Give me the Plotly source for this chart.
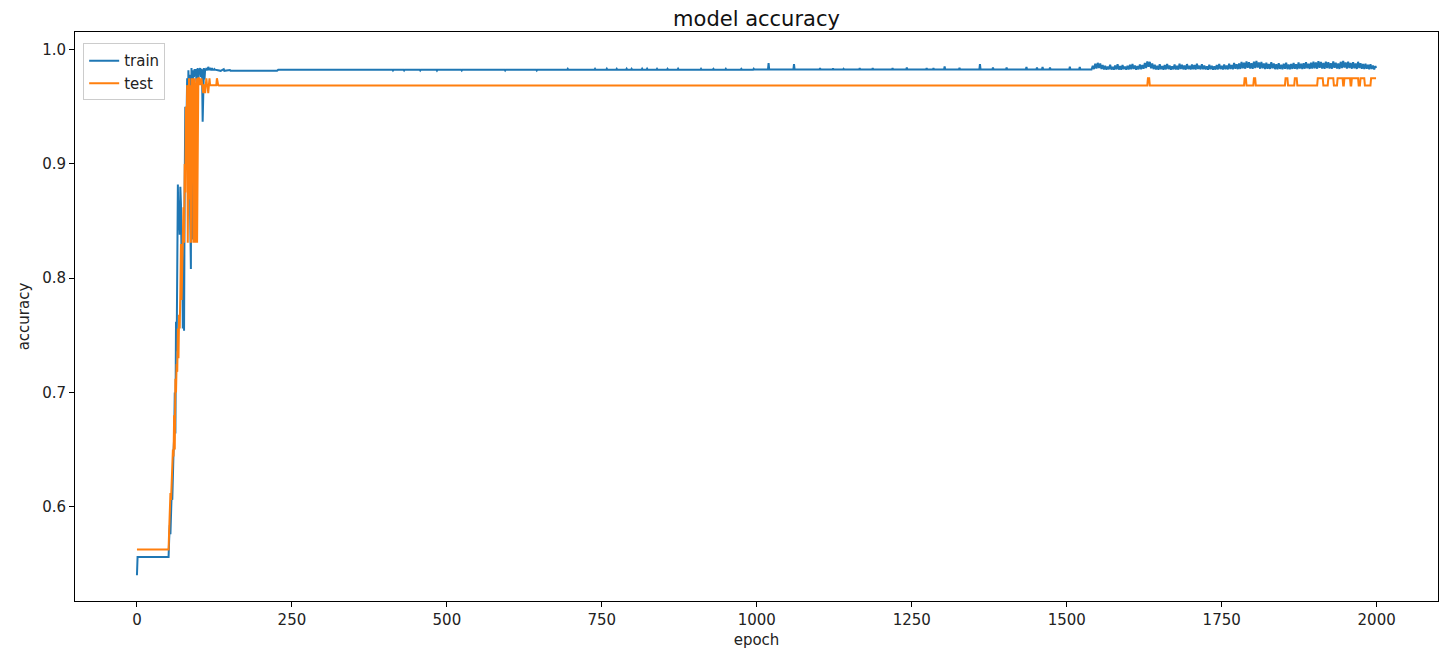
import plotly.graph_objects as go

# ---------------- data ----------------
# train accuracy: start
train_start_epochs = [0, 1, 49]
train_start_acc = [0.540, 0.556, 0.556]

# train accuracy: per-epoch values during the rise (epochs 50..125)
train_rise_epochs = list(range(50, 126))
train_rise_acc = [
    0.556, 0.556, 0.572, 0.584, 0.576, 0.598, 0.612, 0.606, 0.642, 0.648,
    0.660, 0.700, 0.664, 0.762, 0.736, 0.790, 0.882, 0.842, 0.868, 0.838,
    0.880, 0.865, 0.812, 0.835, 0.756, 0.790, 0.754, 0.880, 0.950, 0.905,
    0.966, 0.975, 0.930, 0.982, 0.962, 0.978, 0.852, 0.808, 0.984, 0.834,
    0.972, 0.982, 0.976, 0.983, 0.980, 0.983, 0.972, 0.983, 0.984, 0.975,
    0.983, 0.982, 0.984, 0.976, 0.983, 0.982, 0.937, 0.982, 0.984, 0.974,
    0.983, 0.982, 0.984, 0.983, 0.982, 0.985, 0.983, 0.982, 0.984, 0.983,
    0.982, 0.984, 0.982, 0.983, 0.982, 0.983,
]

# train accuracy: plateau with occasional blips (epochs 126..1538)
train_mid_epochs = [
    126, 135, 140, 141, 150, 151, 170, 180, 181, 226, 228,
    412, 413, 414, 430, 431, 432, 456, 457, 458, 483, 484, 485,
    523, 524, 525, 593, 594, 595, 644, 645, 646,
    694, 695, 696, 738, 739, 740, 757, 758, 759, 773, 774, 775,
    789, 790, 791, 797, 798, 799, 814, 815, 816, 822, 823, 824,
    838, 839, 840, 855, 856, 857, 872, 873, 874,
    909, 910, 911, 929, 930, 931, 949, 950, 951, 974, 975, 976, 994, 995, 996,
    1018, 1019, 1020, 1059, 1060, 1061,
    1101, 1102, 1103, 1122, 1123, 1124, 1139, 1140, 1141, 1165, 1166, 1167,
    1186, 1187, 1188, 1218, 1219, 1220, 1241, 1242, 1243, 1273, 1274, 1275,
    1284, 1285, 1286, 1302, 1303, 1304, 1326, 1327, 1328, 1359, 1360, 1361,
    1380, 1381, 1382, 1402, 1403, 1404, 1434, 1435, 1436, 1451, 1452, 1453,
    1460, 1461, 1462, 1472, 1473, 1474, 1504, 1505, 1506, 1520, 1521, 1522,
    1538,
]
train_mid_acc = [
    0.9825, 0.9815, 0.9830, 0.9815, 0.9822, 0.9815, 0.9815, 0.9820, 0.9815, 0.9815, 0.9825,
    0.9825, 0.9818, 0.9825, 0.9825, 0.9818, 0.9825, 0.9825, 0.9818, 0.9825, 0.9825, 0.9817, 0.9825,
    0.9825, 0.9818, 0.9825, 0.9825, 0.9818, 0.9825, 0.9825, 0.9818, 0.9825,
    0.9825, 0.9833, 0.9825, 0.9825, 0.9833, 0.9825, 0.9825, 0.9834, 0.9825, 0.9825, 0.9833, 0.9825,
    0.9825, 0.9834, 0.9825, 0.9825, 0.9833, 0.9825, 0.9825, 0.9834, 0.9825, 0.9825, 0.9834, 0.9825,
    0.9825, 0.9833, 0.9825, 0.9825, 0.9833, 0.9825, 0.9825, 0.9834, 0.9825,
    0.9825, 0.9833, 0.9825, 0.9825, 0.9832, 0.9825, 0.9825, 0.9833, 0.9825, 0.9825, 0.9832, 0.9825, 0.9825, 0.9833, 0.9826,
    0.9826, 0.9883, 0.9826, 0.9826, 0.9875, 0.9826,
    0.9826, 0.9838, 0.9826, 0.9826, 0.9836, 0.9826, 0.9826, 0.9833, 0.9826, 0.9826, 0.9838, 0.9826,
    0.9826, 0.9840, 0.9826, 0.9826, 0.9838, 0.9826, 0.9826, 0.9843, 0.9826, 0.9826, 0.9840, 0.9826,
    0.9826, 0.9838, 0.9826, 0.9826, 0.9853, 0.9826, 0.9826, 0.9842, 0.9826, 0.9826, 0.9875, 0.9826,
    0.9826, 0.9845, 0.9826, 0.9826, 0.9843, 0.9826, 0.9826, 0.9848, 0.9826, 0.9826, 0.9845, 0.9826,
    0.9826, 0.9848, 0.9826, 0.9826, 0.9845, 0.9826, 0.9826, 0.9852, 0.9826, 0.9826, 0.9850, 0.9826,
    0.9826,
]

# train accuracy: noisy tail (epochs 1540..1998, every 2 epochs) + last epoch
train_late_epochs = list(range(1540, 1999, 2)) + [1999]
train_late_acc = [
    0.9826, 0.9858, 0.9830, 0.9878, 0.9836, 0.9885, 0.9840, 0.9880, 0.9832, 0.9866,
    0.9827, 0.9860, 0.9825, 0.9852, 0.9828, 0.9868, 0.9826, 0.9850, 0.9825, 0.9862,
    0.9828, 0.9872, 0.9826, 0.9856, 0.9825, 0.9866, 0.9830, 0.9852, 0.9826, 0.9860,
    0.9827, 0.9868, 0.9829, 0.9876, 0.9832, 0.9862, 0.9826, 0.9856, 0.9828, 0.9870,
    0.9830, 0.9866, 0.9834, 0.9884, 0.9840, 0.9898, 0.9850, 0.9894, 0.9838, 0.9880,
    0.9830, 0.9868, 0.9827, 0.9858, 0.9825, 0.9872, 0.9829, 0.9856, 0.9825, 0.9866,
    0.9828, 0.9876, 0.9830, 0.9862, 0.9826, 0.9854, 0.9829, 0.9870, 0.9827, 0.9860,
    0.9826, 0.9878, 0.9832, 0.9868, 0.9828, 0.9862, 0.9826, 0.9874, 0.9830, 0.9858,
    0.9827, 0.9870, 0.9829, 0.9865, 0.9826, 0.9878, 0.9832, 0.9860, 0.9828, 0.9872,
    0.9829, 0.9862, 0.9827, 0.9855, 0.9825, 0.9868, 0.9829, 0.9860, 0.9826, 0.9854,
    0.9826, 0.9866, 0.9828, 0.9876, 0.9831, 0.9858, 0.9827, 0.9870, 0.9829, 0.9862,
    0.9828, 0.9878, 0.9831, 0.9866, 0.9829, 0.9884, 0.9834, 0.9872, 0.9830, 0.9880,
    0.9832, 0.9892, 0.9838, 0.9886, 0.9834, 0.9898, 0.9842, 0.9890, 0.9836, 0.9882,
    0.9832, 0.9896, 0.9840, 0.9902, 0.9844, 0.9888, 0.9834, 0.9894, 0.9838, 0.9880,
    0.9830, 0.9886, 0.9834, 0.9876, 0.9832, 0.9890, 0.9837, 0.9880, 0.9830, 0.9872,
    0.9828, 0.9882, 0.9832, 0.9868, 0.9828, 0.9878, 0.9834, 0.9886, 0.9830, 0.9870,
    0.9828, 0.9876, 0.9832, 0.9884, 0.9834, 0.9872, 0.9830, 0.9888, 0.9836, 0.9878,
    0.9830, 0.9882, 0.9834, 0.9890, 0.9838, 0.9878, 0.9832, 0.9886, 0.9836, 0.9895,
    0.9838, 0.9888, 0.9834, 0.9900, 0.9842, 0.9892, 0.9836, 0.9884, 0.9832, 0.9896,
    0.9840, 0.9890, 0.9836, 0.9882, 0.9834, 0.9898, 0.9842, 0.9886, 0.9836, 0.9880,
    0.9832, 0.9894, 0.9840, 0.9902, 0.9844, 0.9888, 0.9836, 0.9896, 0.9840, 0.9884,
    0.9834, 0.9890, 0.9838, 0.9880, 0.9832, 0.9894, 0.9840, 0.9882, 0.9834, 0.9876,
    0.9830, 0.9878, 0.9834, 0.9868, 0.9828, 0.9872, 0.9832, 0.9862, 0.9828, 0.9856,
    0.9840,
]

# test accuracy: start plateau
test_start_epochs = [0, 49]
test_start_acc = [0.5625, 0.5625]

# test accuracy: per-epoch values during the rise (epochs 50..131)
test_rise_epochs = list(range(50, 132))
test_rise_acc = [
    0.5625, 0.5625, 0.580, 0.600, 0.612, 0.606, 0.625, 0.644, 0.650, 0.644,
    0.680, 0.650, 0.712, 0.700, 0.725, 0.718, 0.756, 0.730, 0.768, 0.756,
    0.788, 0.830, 0.781, 0.812, 0.831, 0.862, 0.831, 0.900, 0.875, 0.950,
    0.906, 0.969, 0.831, 0.956, 0.975, 0.869, 0.969, 0.831, 0.975, 0.912,
    0.975, 0.831, 0.975, 0.969, 0.831, 0.975, 0.975, 0.831, 0.969, 0.975,
    0.975, 0.969, 0.975, 0.969, 0.975, 0.969, 0.969, 0.962, 0.969, 0.969,
    0.962, 0.969, 0.975, 0.969, 0.969, 0.962, 0.969, 0.975, 0.969, 0.969,
    0.969, 0.969, 0.969, 0.969, 0.969, 0.969, 0.969, 0.969, 0.969, 0.975,
    0.969, 0.969,
]

# test accuracy: flat plateau with short steps up to 0.975 near the end
test_tail_epochs = [
    132, 1630, 1631, 1633, 1634, 1786, 1787, 1789, 1790, 1801, 1802, 1804, 1805,
    1852, 1853, 1856, 1857, 1867, 1868, 1871, 1872, 1904, 1905, 1913, 1914,
    1921, 1922, 1930, 1931, 1936, 1937, 1945, 1946, 1947, 1948, 1957, 1958,
    1959, 1960, 1970, 1971, 1973, 1974, 1980, 1981, 1990, 1991, 1998, 1999,
]
test_tail_acc = [
    0.96875, 0.96875, 0.975, 0.975, 0.96875, 0.96875, 0.975, 0.975, 0.96875,
    0.96875, 0.975, 0.975, 0.96875,
    0.96875, 0.975, 0.975, 0.96875, 0.96875, 0.975, 0.975, 0.96875,
    0.96875, 0.975, 0.975, 0.96875,
    0.96875, 0.975, 0.975, 0.96875, 0.96875, 0.975, 0.975, 0.96875,
    0.96875, 0.975, 0.975, 0.96875,
    0.96875, 0.975, 0.975, 0.96875, 0.96875, 0.975, 0.975, 0.96875,
    0.96875, 0.975, 0.975, 0.975,
]

x_ticks = [0, 250, 500, 750, 1000, 1250, 1500, 1750, 2000]
y_ticks = [0.6, 0.7, 0.8, 0.9, 1.0]

train_x = train_start_epochs + train_rise_epochs + train_mid_epochs + train_late_epochs
train_y = train_start_acc + train_rise_acc + train_mid_acc + train_late_acc
test_x = test_start_epochs + test_rise_epochs + test_tail_epochs
test_y = test_start_acc + test_rise_acc + test_tail_acc

# ---------------- figure ----------------
FONT = "DejaVu Sans"
fig = go.Figure()
fig.add_trace(go.Scatter(x=train_x, y=train_y, mode="lines", name="train",
                         line=dict(color="#1f77b4", width=2)))
fig.add_trace(go.Scatter(x=test_x, y=test_y, mode="lines", name="test",
                         line=dict(color="#ff7f0e", width=2)))

axis_common = dict(showline=True, linecolor="black", linewidth=1, mirror=True,
                   ticks="outside", ticklen=5, tickcolor="black", tickwidth=1,
                   showgrid=False, zeroline=False,
                   tickfont=dict(family=FONT, size=15, color="#222"))

fig.update_layout(
    width=1446, height=654,
    margin=dict(l=75, r=8, t=32, b=53),
    paper_bgcolor="white", plot_bgcolor="white",
    title=dict(text="model accuracy", x=0.5, xref="paper", xanchor="center",
               y=0.972, yanchor="middle",
               font=dict(family=FONT, size=21, color="#111")),
    xaxis=dict(range=[-99.95, 2098.95], tickvals=x_ticks,
               title=dict(text="epoch", font=dict(family=FONT, size=15, color="#222"), standoff=6),
               **axis_common),
    yaxis=dict(range=[0.5175, 1.0155], tickvals=y_ticks, tickformat=".1f",
               title=dict(text="accuracy", font=dict(family=FONT, size=15, color="#222"), standoff=8),
               **axis_common),
    legend=dict(x=0.006, y=0.98, xanchor="left", yanchor="top",
                bgcolor="rgba(255,255,255,0.85)", bordercolor="#cccccc", borderwidth=1,
                font=dict(family=FONT, size=15, color="#222"), tracegroupgap=0),
    showlegend=True,
)

fig.write_html("out.html")
